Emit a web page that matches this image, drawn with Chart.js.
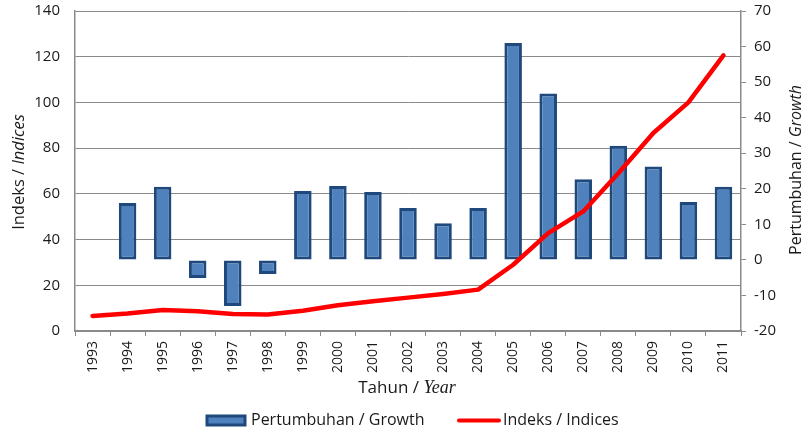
<!DOCTYPE html>
<html>
<head>
<meta charset="utf-8">
<script src="https://cdn.jsdelivr.net/npm/chart.js@4"></script>
<style>
  html, body { margin: 0; padding: 0; background: #fff; }
  #wrap { width: 805px; height: 433px; position: relative; }
</style>
</head>
<body>
<div id="wrap"><canvas id="chart"></canvas></div>
<script>
// data
const years = ["1993","1994","1995","1996","1997","1998","1999","2000","2001","2002",
               "2003","2004","2005","2006","2007","2008","2009","2010","2011"];
// Pertumbuhan / Growth (right axis, %)
const growth = [null, 16, 20.6, -5.1, -13, -4, 19.4, 20.8, 19.1, 14.6,
                10.3, 14.6, 61, 46.8, 22.7, 32.1, 26.3, 16.3, 20.6];
// Indeks / Indices (left axis)
const indices = [6.6, 7.7, 9.2, 8.6, 7.4, 7.2, 8.9, 11.3, 13, 14.6,
                 16.2, 18.1, 29, 42.8, 52.3, 69, 86.6, 100, 120.6];

const GRID = "#8a8a8a";
const TEXT = "#1a1a1a";
const SANS = "'Open Sans', 'Liberation Sans', sans-serif";

// draws a mixed upright/italic title, optionally rotated
function mixedTitle(ctx, parts, x, y, rot) {
  ctx.save();
  ctx.translate(x, y);
  ctx.rotate(rot || 0);
  let total = 0;
  parts.forEach(p => { ctx.font = p.font; p.w = ctx.measureText(p.text).width; total += p.w; });
  let cx = -total / 2;
  ctx.textBaseline = "middle";
  ctx.textAlign = "left";
  ctx.fillStyle = TEXT;
  parts.forEach(p => { ctx.font = p.font; ctx.fillText(p.text, cx, 0); cx += p.w; });
  ctx.restore();
}

const decorations = {
  id: "decorations",
  afterDraw(chart) {
    const ctx = chart.ctx;
    mixedTitle(ctx, [
      { text: "Tahun / ", font: "17px " + SANS },
      { text: "Year", font: "italic 18px 'Liberation Serif', 'DejaVu Serif', serif" }
    ], 407, 388, 0);
    mixedTitle(ctx, [
      { text: "Indeks / ", font: "16.5px " + SANS },
      { text: "Indices", font: "italic 16.5px " + SANS }
    ], 19, 172, -Math.PI / 2);
    mixedTitle(ctx, [
      { text: "Pertumbuhan / ", font: "16px " + SANS },
      { text: "Growth", font: "italic 16px " + SANS }
    ], 796, 170, -Math.PI / 2);

    // legend
    ctx.save();
    ctx.fillStyle = "#4F81BD";
    ctx.strokeStyle = "#1F497D";
    ctx.lineWidth = 3;
    ctx.fillRect(207, 416, 38, 9);
    ctx.strokeRect(207, 416, 38, 9);
    ctx.strokeStyle = "#FF0000";
    ctx.lineWidth = 4;
    ctx.lineCap = "round";
    ctx.beginPath();
    ctx.moveTo(459, 420.5);
    ctx.lineTo(499, 420.5);
    ctx.stroke();
    ctx.fillStyle = TEXT;
    ctx.font = "16px " + SANS;
    ctx.textBaseline = "middle";
    ctx.fillText("Pertumbuhan / Growth", 251, 420);
    ctx.fillText("Indeks / Indices", 503, 420);
    ctx.restore();
  }
};

new Chart(document.getElementById("chart"), {
  data: {
    labels: years,
    datasets: [
      {
        type: "bar",
        label: "Pertumbuhan / Growth",
        data: growth,
        yAxisID: "y1",
        backgroundColor: "#4F81BD",
        borderColor: "#1F497D",
        borderWidth: 3,
        borderSkipped: false,
        barPercentage: 0.5,
        categoryPercentage: 1,
        order: 2
      },
      {
        type: "line",
        label: "Indeks / Indices",
        data: indices,
        yAxisID: "y",
        borderColor: "#FF0000",
        backgroundColor: "#FF0000",
        borderWidth: 4.5,
        pointRadius: 0,
        tension: 0,
        borderCapStyle: "round",
        borderJoinStyle: "round",
        order: 1
      }
    ]
  },
  options: {
    responsive: true,
    maintainAspectRatio: false,
    animation: false,
    layout: { padding: { left: 0, right: 0, top: 0, bottom: 0 } },
    plugins: {
      legend: { display: false },
      tooltip: { enabled: false }
    },
    scales: {
      x: {
        offset: true,
        grid: { offset: true, drawOnChartArea: false, drawTicks: true, tickLength: 5, color: GRID },
        border: { color: GRID, width: 1.5 },
        ticks: {
          color: TEXT, font: { family: SANS, size: 14 },
          minRotation: 90, maxRotation: 90, padding: 5, autoSkip: false
        },
        afterFit(s) { s.height = 102; }
      },
      y: {
        position: "left",
        min: 0, max: 140,
        grid: { color: GRID, drawTicks: false, lineWidth: 1 },
        border: { color: GRID, width: 1.5 },
        ticks: { stepSize: 20, color: TEXT, font: { family: SANS, size: 15 }, padding: 15 },
        afterFit(s) { s.width = 75; s.paddingTop = 11; }
      },
      y1: {
        position: "right",
        min: -20, max: 70,
        grid: { drawOnChartArea: false, drawTicks: true, tickLength: 5, color: GRID },
        border: { color: GRID, width: 1.5 },
        ticks: { stepSize: 10, color: TEXT, font: { family: SANS, size: 15 }, padding: 8 },
        afterFit(s) { s.width = 64; s.paddingTop = 11; }
      }
    }
  },
  plugins: [decorations]
});
</script>
</body>
</html>
